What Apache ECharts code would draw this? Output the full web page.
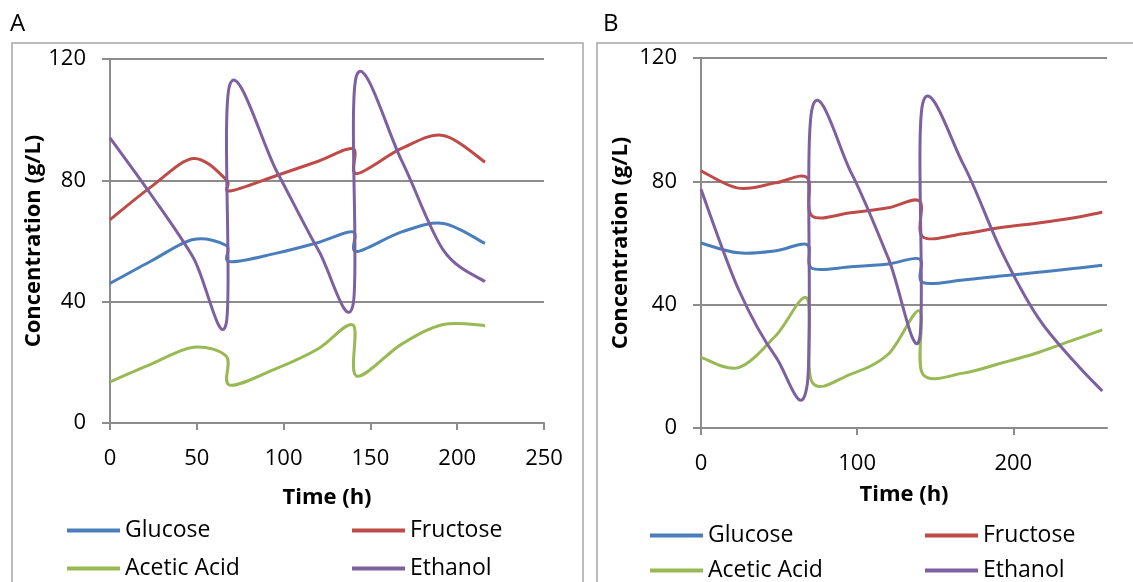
<!DOCTYPE html>
<html>
<head>
<meta charset="utf-8">
<script src="https://cdn.jsdelivr.net/npm/echarts@6/dist/echarts.min.js"></script>
<style>
  html, body { margin: 0; padding: 0; background: #fff; }
  #chart { width: 1133px; height: 582px; }
</style>
</head>
<body>
<div id="chart"></div>
<script>
// Panel A
const timeA = [0, 24, 48, 67, 69, 96, 120, 140, 142, 168, 192, 216]
const glucoseA = [46, 53.5, 60.5, 58.5, 53.2, 56, 59.5, 63, 56.5, 63, 65.8, 59.2]
const fructoseA = [67, 78, 87.2, 80.2, 76.5, 81.6, 86.3, 90.4, 82.2, 90.5, 94.8, 86]
const aceticA = [13.6, 19.5, 25, 22, 12.5, 18, 24.5, 32.3, 15.5, 26, 32.5, 32.1]
const ethanolA = [94, 75, 54.5, 33, 111.5, 83, 57, 39, 114.5, 86.5, 57, 46.6]

// Panel B
const timeB = [0, 24, 48, 68, 71, 96, 120, 140, 142, 168, 192, 216, 240, 257]
const glucoseB = [60, 56.8, 57.5, 59.5, 51.8, 52.3, 53.2, 54.8, 47.2, 48, 49.3, 50.5, 51.8, 52.8]
const fructoseB = [83.4, 77.8, 79.5, 81.2, 68.8, 69.8, 71.4, 73.6, 62, 63, 65, 66.5, 68.3, 70]
const aceticB = [22.9, 19.6, 30, 42, 15, 17.5, 24, 38, 17.5, 17.8, 21, 24.5, 28.8, 31.8]
const ethanolB = [77.4, 45, 23, 14, 103.2, 83, 55, 29, 105.3, 85.5, 57.8, 35.7, 21, 12]

const xTicksB = [0, 100, 200]

const names = ['Glucose', 'Fructose', 'Acetic Acid', 'Ethanol']
const colors = ['#4a7ebb', '#be4b48', '#98b954', '#7d60a0']

const font = 'Open Sans'
const axisGray = '#8c8c8c'

const pairs = (t, v) => t.map((x, i) => [x, v[i]])

// Bezier through the points, spreadsheet-style smoothing (Catmull-Rom, 1/6)
const smoothPath = (pts) => {
    let d = 'M' + pts[0][0] + ',' + pts[0][1]
    for (let i = 0; i < pts.length - 1; i++) {
        const p0 = pts[i - 1] || pts[i]
        const p1 = pts[i]
        const p2 = pts[i + 1]
        const p3 = pts[i + 2] || p2
        const c1x = p1[0] + (p2[0] - p0[0]) / 6
        const c1y = p1[1] + (p2[1] - p0[1]) / 6
        const c2x = p2[0] - (p3[0] - p1[0]) / 6
        const c2y = p2[1] - (p3[1] - p1[1]) / 6
        d += ' C' + c1x + ',' + c1y + ' ' + c2x + ',' + c2y + ' ' + p2[0] + ',' + p2[1]
    }
    return d
}

const curve = (name, color, axisIndex, data) => ({
    name,
    type: 'custom',
    xAxisIndex: axisIndex,
    yAxisIndex: axisIndex,
    data,
    encode: { x: 0, y: 1 },
    itemStyle: { color },
    renderItem: (params, api) => {
        if (params.dataIndex !== 0) return null
        const pts = data.map((p) => api.coord(p))
        return {
            type: 'path',
            shape: { pathData: smoothPath(pts) },
            style: { stroke: color, fill: 'none', lineWidth: 3, lineJoin: 'round' },
        }
    },
})

const chart = echarts.init(document.getElementById('chart'))

const yAxisBase = (gridIndex, gap) => ({
    type: 'value',
    gridIndex,
    min: 0,
    max: 120,
    interval: 40,
    name: 'Concentration (g/L)',
    nameLocation: 'middle',
    nameGap: gap,
    nameTextStyle: { fontFamily: font, fontSize: 22, fontWeight: 'bold', color: '#000' },
    axisLine: { show: true, lineStyle: { color: axisGray, width: 2 } },
    axisTick: { show: true, length: 8, lineStyle: { color: axisGray, width: 2 } },
    axisLabel: { margin: 24, fontFamily: font, fontSize: 22, color: '#000' },
    splitLine: { show: true, lineStyle: { color: axisGray, width: 2 } },
})

const xAxisBase = (gridIndex, gap) => ({
    type: 'value',
    gridIndex,
    min: 0,
    name: 'Time (h)',
    nameLocation: 'middle',
    nameGap: gap,
    nameTextStyle: { fontFamily: font, fontSize: 22, fontWeight: 'bold', color: '#000' },
    axisLine: { show: true, lineStyle: { color: axisGray, width: 2 } },
    axisTick: { show: true, length: 7, lineStyle: { color: axisGray, width: 2 } },
    axisLabel: { margin: 25, fontFamily: font, fontSize: 22, color: '#000' },
    splitLine: { show: false },
})

const seriesA = [glucoseA, fructoseA, aceticA, ethanolA]
const seriesB = [glucoseB, fructoseB, aceticB, ethanolB]

const series = []
seriesA.forEach((vals, i) => series.push(curve(names[i], colors[i], 0, pairs(timeA, vals))))
seriesB.forEach((vals, i) => series.push(curve(names[i], colors[i], 1, pairs(timeB, vals))))

// one legend per entry so the two columns line up like the original
const legendAt = (name, left, top) => ({
    data: [name],
    left, top,
    padding: 0,
    icon: 'rect',
    itemWidth: 53,
    itemHeight: 4,
    selectedMode: false,
    textStyle: { fontFamily: font, fontSize: 23, color: '#000' },
})

const option = {
    animation: false,
    backgroundColor: '#fff',
    grid: [
        { left: 110, top: 59, width: 434, height: 364 },
        { left: 701, top: 58, width: 406, height: 370 },
    ],
    xAxis: [
        Object.assign(xAxisBase(0, 64), { max: 250, interval: 50 }),
        Object.assign(xAxisBase(1, 56), {
            max: 260,
            axisTick: { show: true, length: 7, customValues: xTicksB, lineStyle: { color: axisGray, width: 2 } },
            axisLabel: { margin: 25, customValues: xTicksB, fontFamily: font, fontSize: 22, color: '#000' },
        }),
    ],
    yAxis: [yAxisBase(0, 64), yAxisBase(1, 69)],
    legend: [
        legendAt('Glucose', 67, 519),
        legendAt('Fructose', 352, 519),
        legendAt('Acetic Acid', 67, 557),
        legendAt('Ethanol', 352, 557),
        legendAt('Glucose', 650, 524),
        legendAt('Fructose', 925, 524),
        legendAt('Acetic Acid', 650, 559),
        legendAt('Ethanol', 925, 559),
    ],
    graphic: [
        { type: 'rect', silent: true, shape: { x: 12, y: 43, width: 571, height: 600 },
          style: { fill: 'none', stroke: '#a6a6a6', lineWidth: 1.5 } },
        { type: 'rect', silent: true, shape: { x: 597, y: 43, width: 600, height: 600 },
          style: { fill: 'none', stroke: '#a6a6a6', lineWidth: 1.5 } },
        { type: 'text', left: 10, top: 12, style: { text: 'A', font: '24px "Open Sans"', fill: '#000' } },
        { type: 'text', left: 603, top: 12, style: { text: 'B', font: '24px "Open Sans"', fill: '#000' } },
    ],
    series,
}

chart.setOption(option)
</script>
</body>
</html>
